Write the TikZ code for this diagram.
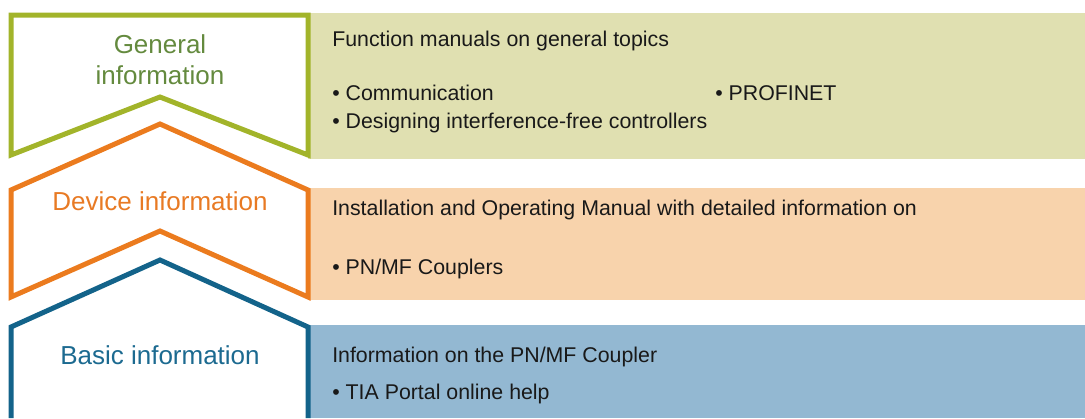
\documentclass[tikz,border=0pt]{standalone}
\usepackage{fontspec}
\setmainfont{Liberation Sans}
\usetikzlibrary{positioning}
\definecolor{genline}{HTML}{A2B42A}
\definecolor{genfill}{HTML}{E0E0B1}
\definecolor{gentext}{HTML}{648A3E}
\definecolor{devline}{HTML}{EB7B1E}
\definecolor{devfill}{HTML}{F8D3AC}
\definecolor{devtext}{HTML}{E87A24}
\definecolor{basline}{HTML}{13638A}
\definecolor{basfill}{HTML}{93B8D2}
\definecolor{bastext}{HTML}{1C6A90}
\tikzset{
  band/.style={line width=3.75pt, line join=miter},
  title/.style={anchor=base, font=\fontsize{19.5}{23.5}\selectfont, inner sep=0pt, align=center},
  info/.style={anchor=base west, font=\fontsize{16}{19}\selectfont, inner sep=0pt, text=black!90},
}

\begin{document}
\begin{tikzpicture}[x=0.75pt, y=-0.75pt]
  \useasboundingbox (0,0) rectangle (1085,418);
  % coloured text fields
  \fill[genfill] (308,13) rectangle (1085,159);
  \fill[devfill] (308,188) rectangle (1085,300);
  \fill[basfill] (308,325) rectangle (1085,418);
  % chevron outlines
  \draw[band, genline] (11,15) -- (308,15) -- (308,155) -- (160,97) -- (11,155) -- cycle;
  \draw[band, devline] (11,190) -- (160,124) -- (308,190) -- (308,297) -- (160,231) -- (11,297) -- cycle;
  \draw[band, basline] (11,418) -- (11,327) -- (160,260) -- (308,327) -- (308,418);
  % titles
  \node[title, text=gentext] (gen1) at (160,53) {General};
  \node[title, text=gentext] (gen2) at (160,84) {information};
  \node[title, text=devtext] (dev) at (160,210) {Device information};
  \node[title, text=bastext] (bas) at (160,364) {Basic information};
  % general
  \node[info] (genhead) at (332,46) {Function manuals on general topics};
  \node[info] (gencom) at (332,100) {• Communication};
  \node[info] (genpn) at (715,100) {• PROFINET};
  \node[info] (gendes) at (332,128) {• Designing interference-free controllers};
  % device
  \node[info] (devhead) at (332,215) {Installation and Operating Manual with detailed information on};
  \node[info] (devpn) at (332,274) {• PN/MF Couplers};
  % basic
  \node[info] (bashead) at (332,362) {Information on the PN/MF Coupler};
  \node[info] (bastia) at (332,399) {• TIA Portal online help};
\end{tikzpicture}
\end{document}
